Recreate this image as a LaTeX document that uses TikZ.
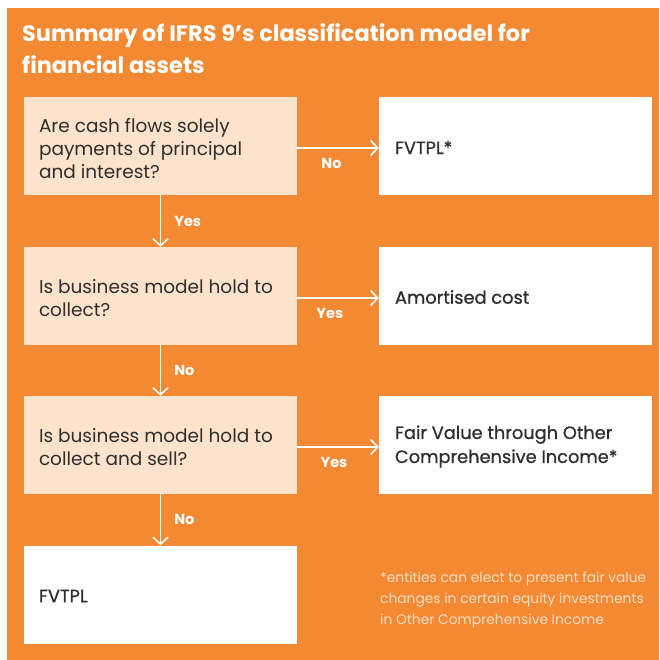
\documentclass[tikz,border=0pt]{standalone}
\usepackage{fontspec}
\setmainfont{Poppins}
\newfontfamily\medfont{Poppins}[FakeBold=0.8]
\usetikzlibrary{arrows.meta}
\definecolor{ora}{HTML}{F38A33}
\definecolor{peach}{HTML}{FDE3CB}
\definecolor{ink}{HTML}{2E2E2E}
\definecolor{foot}{HTML}{FCDCC2}
\tikzset{
  qbox/.style={fill=peach, draw=none, inner sep=0pt, minimum width=273pt, minimum height=98pt},
  rbox/.style={fill=white, draw=none, inner sep=0pt, minimum width=273pt, minimum height=98pt},
  qtext/.style={anchor=west, align=left, inner sep=0pt, text=ink, font=\fontsize{18.5}{23}\selectfont},
  rtext/.style={anchor=west, align=left, inner sep=0pt, text=ink, font=\medfont\fontsize{17.8}{24}\selectfont},
  arr/.style={draw=white, line width=1.6pt, -{Straight Barb[length=7pt,width=15pt,line width=1.6pt]}},
  lab/.style={text=white, font=\bfseries\fontsize{14.5}{16}\selectfont, inner sep=2pt},
}
\begin{document}
\begin{tikzpicture}[x=1pt,y=-1pt]
\useasboundingbox (0,0) rectangle (659,660);
\fill[white] (0,0) rectangle (659,660);
\fill[ora] (7,8) rectangle (659,660);
\node[anchor=west, align=left, inner sep=0pt, text=white, font=\bfseries\fontsize{22.4}{32}\selectfont] (title) at (22,49)
  {Summary of IFRS 9’s classification model for\\financial assets};
% question boxes
\node[qbox] (q1) at (160.5,146) {};
\node[qbox] (q2) at (160.5,296) {};
\node[qbox] (q3) at (160.5,445) {};
\node[rbox] (q4) at (160.5,594.5) {};
% result boxes
\node[rbox] (r1) at (515.5,146) {};
\node[rbox] (r2) at (515.5,296) {};
\node[rbox] (r3) at (515.5,445) {};
% texts
\node[qtext] (t1) at ([xshift=15pt,yshift=-2.5pt]q1.west) {Are cash flows solely\\payments of principal\\and interest?};
\node[qtext] (t2) at ([xshift=15pt,yshift=-2pt]q2.west) {Is business model hold to\\collect?};
\node[qtext] (t3) at ([xshift=15pt,yshift=-2pt]q3.west) {Is business model hold to\\collect and sell?};
\node[rtext] (t4) at ([xshift=15pt,yshift=-1.5pt]q4.west) {FVTPL};
\node[rtext] (u1) at ([xshift=16pt,yshift=-1.5pt]r1.west) {FVTPL*};
\node[rtext] (u2) at ([xshift=16pt,yshift=-1pt]r2.west) {Amortised cost};
\node[rtext] (u3) at ([xshift=16pt,yshift=-1.5pt]r3.west) {Fair Value through Other\\Comprehensive Income*};
% footnote
\node[anchor=north west, align=left, inner sep=0pt, text=foot, font=\fontsize{13.8}{21}\selectfont] (fn) at (380,572)
  {*entities can elect to present fair value\\changes in certain equity investments\\in Other Comprehensive Income};
% connectors
\draw[arr] ([yshift=-2pt]q1.east) -- node[lab, below, pos=0.42, yshift=-8pt] {No} ([yshift=-2pt]r1.west);
\draw[arr] ([yshift=-2pt]q2.east) -- node[lab, below, pos=0.40, yshift=-8pt] {Yes} ([yshift=-2pt]r2.west);
\draw[arr] ([yshift=-2pt]q3.east) -- node[lab, below, pos=0.45, yshift=-8pt] {Yes} ([yshift=-2pt]r3.west);
\draw[arr] (q1.south) -- node[lab, right, xshift=11pt] {Yes} (q2.north);
\draw[arr] (q2.south) -- node[lab, right, xshift=11pt] {No} (q3.north);
\draw[arr] (q3.south) -- node[lab, right, xshift=11pt] {No} (q4.north);
\end{tikzpicture}
\end{document}
